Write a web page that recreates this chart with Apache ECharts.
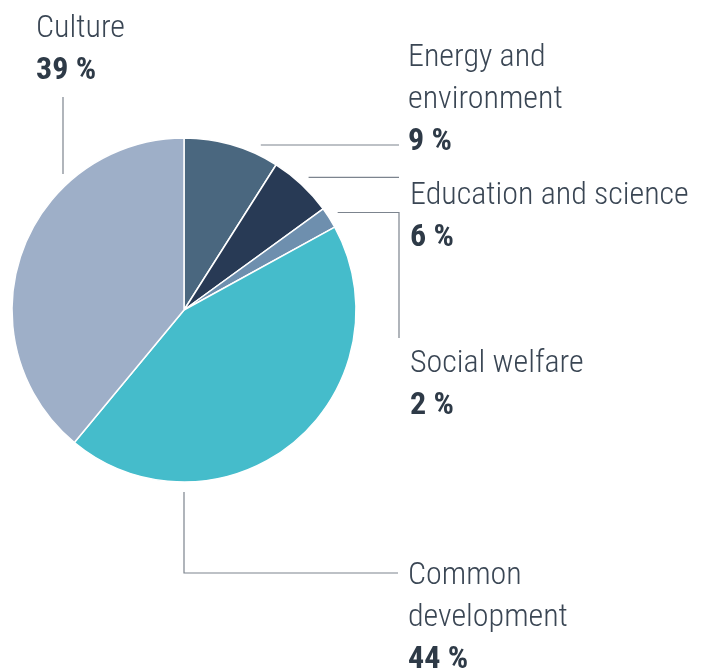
<!DOCTYPE html>
<html>
<head>
<meta charset="utf-8">
<script src="https://cdn.jsdelivr.net/npm/echarts@6/dist/echarts.min.js"></script>
<style>
  html, body { margin: 0; padding: 0; background: #ffffff; }
  #chart { width: 708px; height: 670px; }
</style>
</head>
<body>
<div id="chart"></div>
<script>
// Funding shares by area (per cent)
const categories = ['Energy and\nenvironment', 'Education and science', 'Social welfare', 'Common\ndevelopment', 'Culture'];
const shares = [9, 6, 2, 44, 39];
const sliceColors = ['#4a677f', '#283a55', '#6e8fae', '#45bccb', '#9eafc8'];

// Pie geometry
const CX = 184, CY = 310, R = 172;
const GAP = 10;              // clearance between pie edge and leader line
const G = R + GAP;
const FONT = '"Roboto Condensed", Roboto, sans-serif';

// Top-left corner of each label block
const labelBoxes = [[408, 37], [410, 175], [410, 343], [408, 555], [36, 8]];

// Slice angles, clockwise from 12 o'clock
const total = shares.reduce((a, b) => a + b, 0);
const sliceMid = [];
let acc = 0;
shares.forEach(v => {
  sliceMid.push((acc + v / 2) / total * 360);
  acc += v;
});
function polar(deg, r) {
  const a = deg * Math.PI / 180;
  return [CX + r * Math.sin(a), CY - r * Math.cos(a)];
}
function rightEdgeAtY(y) { return CX + Math.sqrt(G * G - (y - CY) * (y - CY)); }
function topEdgeAtX(x) { return CY - Math.sqrt(G * G - (x - CX) * (x - CX)); }

// Leader line routes
const lineEndX = 399;
const pEdu = polar(sliceMid[1], G);
const pSoc = polar(sliceMid[2], G);
const leaderRoutes = [
  [[rightEdgeAtY(145), 145], [lineEndX, 145]],
  [pEdu, [lineEndX, pEdu[1]]],
  [pSoc, [lineEndX, pSoc[1]], [lineEndX, 338]],
  [[CX, CY + G], [CX, 573], [398, 573]],
  [[63, 97], [63, topEdgeAtX(63)]]
];

const chart = echarts.init(document.getElementById('chart'), null, { renderer: 'canvas' });

chart.setOption({
  backgroundColor: '#ffffff',
  animation: false,
  series: [{
    type: 'pie',
    center: [CX, CY],
    radius: R,
    startAngle: 90,
    clockwise: true,
    avoidLabelOverlap: false,
    emphasis: { disabled: true },
    itemStyle: { borderColor: '#ffffff', borderWidth: 1.5 },
    label: {
      show: true,
      position: 'outside',
      formatter: p => '{n|' + p.name + '}\n{v|' + p.value + ' %}',
      rich: {
        n: { fontFamily: FONT, fontSize: 32, fontWeight: 300, color: '#3a4654', lineHeight: 42 },
        v: { fontFamily: FONT, fontSize: 32, fontWeight: 'bold', color: '#2e3a47', lineHeight: 42 }
      }
    },
    labelLine: {
      show: true,
      length: 10,
      length2: 10,
      lineStyle: { color: '#7c848e', width: 1.2 }
    },
    labelLayout: params => {
      const i = params.dataIndex;
      return {
        x: labelBoxes[i][0],
        y: labelBoxes[i][1],
        align: 'left',
        verticalAlign: 'top',
        labelLinePoints: leaderRoutes[i]
      };
    },
    data: categories.map((name, i) => ({
      name: name,
      value: shares[i],
      itemStyle: { color: sliceColors[i] }
    }))
  }]
});
</script>
</body>
</html>
